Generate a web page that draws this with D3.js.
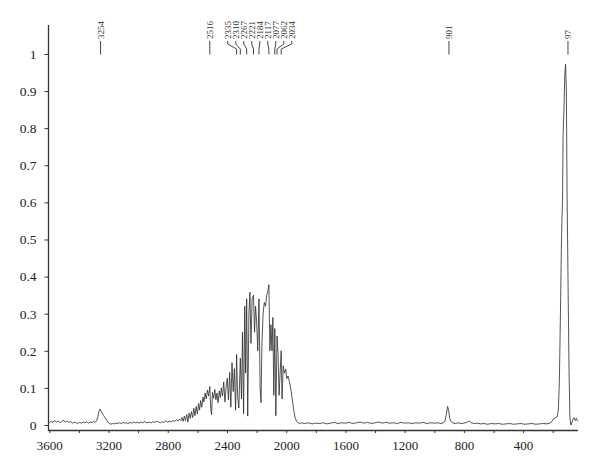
<!DOCTYPE html>
<html><head><meta charset="utf-8">
<script src="https://cdn.jsdelivr.net/npm/d3@7"></script>
<style>html,body{margin:0;padding:0;background:#fff}</style>
</head><body>
<svg id="chart" width="600" height="474"></svg>
<script>
const wavenumbers = [3600,3588,3576,3564,3552,3540,3528,3516,3504,3492,3480,3468,3456,3444,3432,3420,3408,3396,3384,3372,3360,3348,3336,3324,3312,3300,3290,3280,3272,3265,3258,3251,3243,3234,3224,3214,3204,3194,3184,3174,3162,3150,3138,3126,3114,3102,3090,3078,3066,3054,3042,3030,3018,3006,2994,2982,2970,2958,2946,2934,2922,2910,2898,2886,2874,2862,2850,2838,2826,2814,2802,2790,2778,2766,2754,2742,2730,2720,2712,2704,2696,2688,2680,2672,2664,2656,2648,2640,2632,2624,2616,2608,2600,
2592,2585,2578,2570,2562,2555,2548,2540,2532,2524,2516,2510,2504,2498,2490,2482,2475,2468,2460,2452,2445,2438,2430,2422,2414,2406,2398,2390,2382,2374,2366,2358,2350,2342,2335,2328,2320,2310,2302,2295,2288,2280,2274,2267,2260,2252,2245,2238,2230,2221,2214,2207,2200,2192,2184,2176,2170,2164,2156,2148,2140,2132,2124,2117,2110,2103,2096,2090,2084,2077,2070,2062,2055,2048,2040,2034,2028,2020,2012,2004,1996,1988,1980,1970,1960,1950,1940,1930,1920,1908,1896,
1875,1850,1825,1800,1775,1750,1725,1700,1675,1650,1625,1600,1575,1550,1525,1500,1475,1450,1425,1400,1375,1350,1325,1300,1275,1250,1225,1200,1175,1150,1125,1100,1075,1050,1025,1000,975,955,940,928,918,910,903,896,888,876,860,840,820,800,780,765,750,730,710,690,665,640,615,590,565,540,515,490,465,440,415,390,365,340,315,290,265,240,220,205,192,180,170,162,155,148,142,138,134,130,124,118,113,108,103,97,90,84,78,72,64,56,48,40,32];
const absorbance = [.006,.010,.007,.012,.008,.011,.006,.010,.013,.008,.011,.007,.009,.005,.008,.006,.004,.007,.005,.008,.006,.009,.005,.008,.006,.010,.007,.012,.022,.036,.043,.038,.032,.026,.020,.013,.008,.004,.002,.004,.003,.005,.004,.006,.004,.007,.005,.006,.004,.007,.005,.008,.006,.007,.005,.008,.006,.009,.007,.006,.008,.006,.009,.007,.010,.008,.006,.009,.007,.011,.008,.010,.008,.012,.010,.014,.011,.016,.012,.020,.010,.024,.012,.028,.008,.032,.018,.036,.020,.045,.025,.050,.030,
.058,.040,.066,.048,.075,.062,.086,.070,.094,.078,.104,.045,.028,.088,.072,.096,.068,.086,.060,.092,.074,.100,.078,.116,.062,.102,.126,.068,.142,.048,.168,.090,.152,.040,.190,.078,.046,.180,.070,.250,.030,.320,.140,.340,.024,.300,.358,.220,.340,.350,.250,.320,.280,.200,.340,.100,.060,.220,.300,.330,.320,.350,.360,.378,.200,.270,.200,.290,.080,.260,.025,.240,.190,.080,.150,.200,.070,.160,.140,.150,.125,.132,.120,.100,.072,.042,.020,.010,.006,.004,.006,
.004,.006,.003,.005,.004,.006,.003,.005,.007,.004,.006,.005,.007,.004,.006,.008,.005,.007,.004,.006,.008,.005,.007,.005,.006,.004,.007,.005,.006,.004,.006,.005,.007,.004,.006,.005,.006,.004,.006,.010,.030,.050,.040,.018,.010,.006,.004,.006,.004,.005,.007,.011,.006,.004,.005,.003,.004,.002,.004,.003,.004,.002,.003,.004,.002,.003,.004,.002,.003,.004,.002,.003,.004,.003,.005,.010,.018,.020,.022,.040,.120,.300,.470,.550,.600,.780,.850,.950,.972,.900,.620,.400,.150,.020,.000,.005,.015,.020,.012,.018,.010];
const peakLabels = [3254,2516,2335,2310,2267,2221,2184,2117,2077,2062,2034,901,97];
const xTickValues = [3600,3400,3200,3000,2800,2600,2400,2200,2000,1800,1600,1400,1200,1000,800,600,400,200];
const xLabelValues = [3600,3200,2800,2400,2000,1600,1200,800,400];
const yTickValues = [0,0.1,0.2,0.3,0.4,0.5,0.6,0.7,0.8,0.9,1];

const svg = d3.select("#chart");
const FONT = "'Liberation Serif', 'Times New Roman', serif";
const axisColor = "#333";
const x = d3.scaleLinear().domain([3600, 30]).range([49.3, 577.9]);
const y = d3.scaleLinear().domain([0, 1.078]).range([425, 25]);
const xAxisY = 430;

// x axis
const gx = svg.append("g").attr("transform", `translate(0,${xAxisY})`)
  .call(d3.axisBottom(x).tickValues(xTickValues).tickSize(3).tickPadding(7.5)
    .tickFormat(d => xLabelValues.includes(d) ? String(d) : ""));
gx.select(".domain").attr("stroke", axisColor).attr("stroke-width", 1.3)
  .attr("d", `M48.5,0.5H${x(30)}`);
gx.selectAll(".tick line").attr("stroke", axisColor).attr("stroke-width", 1);
gx.selectAll("text").attr("font-family", FONT).attr("font-size", 13).attr("fill", "#222");

// y axis
const gy = svg.append("g").attr("transform", "translate(48.5,0)")
  .call(d3.axisLeft(y).tickValues(yTickValues).tickSize(4).tickPadding(8)
    .tickFormat(d => String(+d.toFixed(1))));
gy.select(".domain").remove();
gy.append("line").attr("x1", 0).attr("x2", 0).attr("y1", y(1.078)).attr("y2", xAxisY + 1)
  .attr("stroke", axisColor).attr("stroke-width", 1.3);
gy.selectAll(".tick line").attr("stroke", axisColor).attr("stroke-width", 1);
gy.selectAll("text").attr("font-family", FONT).attr("font-size", 13.5).attr("fill", "#222");

// spectrum
const pts = wavenumbers.map((w, i) => [w, absorbance[i]]);
svg.append("path").datum(pts)
  .attr("fill", "none").attr("stroke", "#2a2a2a").attr("stroke-width", 0.8)
  .attr("stroke-linejoin", "round")
  .attr("d", d3.line().x(d => x(d[0])).y(d => y(d[1])));

// peak labels with collision avoidance (clusters spread evenly around their mean)
const gap = 8;
let items = peakLabels.map(v => ({v, ax: x(v)})).sort((a, b) => a.ax - b.ax);
items.forEach(it => it.lx = it.ax);
for (let iter = 0; iter < 50; iter++) {
  let groups = [];
  let cur = [items[0]];
  for (let i = 1; i < items.length; i++) {
    if (items[i].lx - cur[cur.length - 1].lx < gap + 0.01) cur.push(items[i]);
    else { groups.push(cur); cur = [items[i]]; }
  }
  groups.push(cur);
  let changed = false;
  groups.forEach(g => {
    if (g.length < 2) return;
    const m = d3.mean(g, d => d.ax);
    g.forEach((d, i) => { const nx = m + (i - (g.length - 1) / 2) * gap; if (Math.abs(nx - d.lx) > 0.01) changed = true; d.lx = nx; });
  });
  if (!changed) break;
}
const lg = svg.append("g");
items.forEach(it => {
  lg.append("path")
    .attr("d", `M${it.lx},41V44L${it.ax},49V54.5`)
    .attr("fill", "none").attr("stroke", "#333").attr("stroke-width", 0.9);
  lg.append("text")
    .attr("transform", `translate(${it.lx},39) rotate(-90)`)
    .attr("text-anchor", "start").attr("dominant-baseline", "central")
    .attr("font-family", FONT).attr("font-size", 9).attr("fill", "#333")
    .text(it.v);
});
</script>
</body></html>
